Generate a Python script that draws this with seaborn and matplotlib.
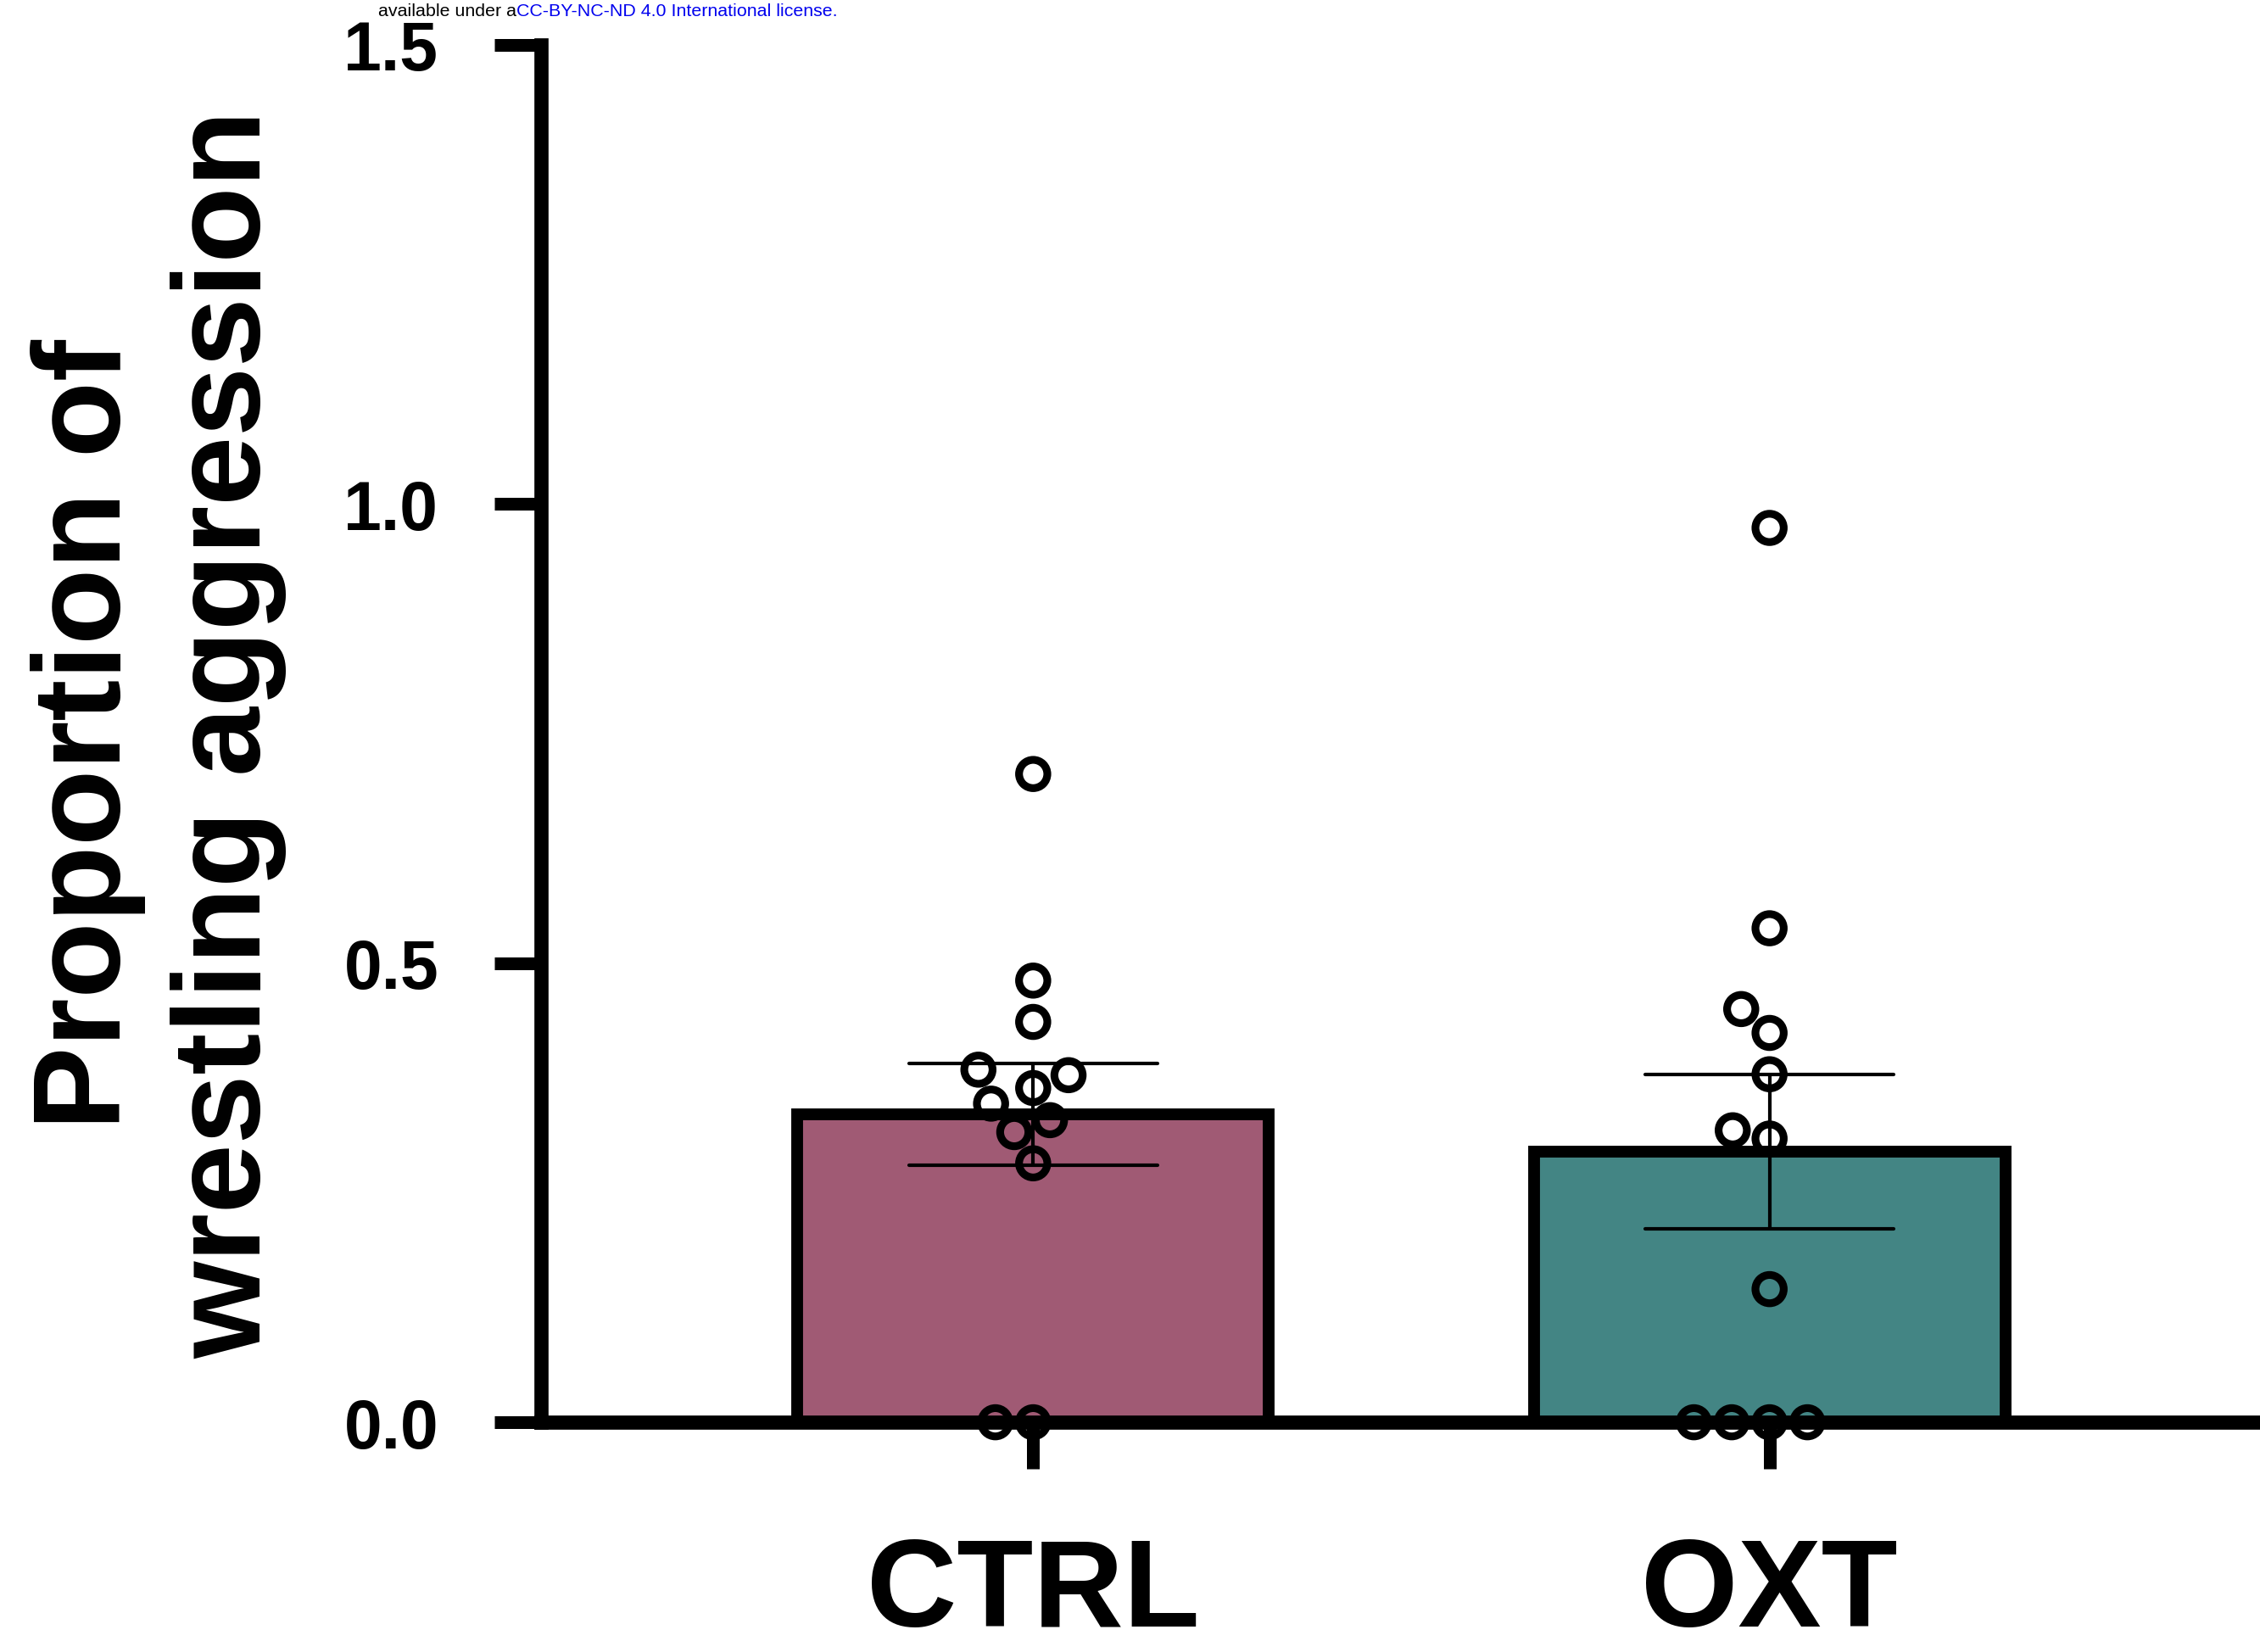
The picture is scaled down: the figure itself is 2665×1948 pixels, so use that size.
import numpy as np
import pandas as pd
import matplotlib
matplotlib.use("Agg")
import matplotlib.pyplot as plt
import seaborn as sns

# ---- data ----
groups = ["CTRL", "OXT"]
ctrl_values = [0.706, 0.481, 0.436, 0.384, 0.378, 0.347, 0.364, 0.329, 0.316, 0.282, 0.0, 0.0]
oxt_values = [0.974, 0.538, 0.450, 0.424, 0.379, 0.318, 0.309, 0.145, 0.0, 0.0, 0.0, 0.0]
bar_colors = ["#A05A74", "#438584"]
y_ticks = [0.0, 0.5, 1.0, 1.5]
y_tick_labels = ["0.0", "0.5", "1.0", "1.5"]
y_label = "Proportion of\nwrestling aggression"
header_black = "available under a"
header_blue = "CC-BY-NC-ND 4.0 International license."

df = pd.DataFrame({
    "group": ["CTRL"] * len(ctrl_values) + ["OXT"] * len(oxt_values),
    "value": ctrl_values + oxt_values,
})

sns.set_style("ticks")
plt.rcParams["font.family"] = ["Liberation Sans", "DejaVu Sans"]

fig = plt.figure(figsize=(13.325, 9.745), dpi=200)
ax = fig.add_axes([0.2395, 0.1390, 0.7605, 0.8333])

sns.barplot(
    data=df, x="group", y="value", hue="group", order=groups, hue_order=groups,
    palette=bar_colors, saturation=1, errorbar="se", capsize=0.338, width=0.64,
    edgecolor="black", linewidth=5.0,
    err_kws={"color": "black", "linewidth": 1.5},
    legend=False, ax=ax,
)

sns.swarmplot(
    data=df, x="group", y="value", order=groups, color="white",
    edgecolor="black", linewidth=3.3, size=12.0, ax=ax, zorder=4,
)
for coll in ax.collections:
    coll.set_facecolor("none")
    coll.set_clip_on(False)

ax.set_xlim(-0.668, 1.666)
ax.set_ylim(0, 1.5)
ax.set_yticks(y_ticks)
ax.set_yticklabels(y_tick_labels)

sns.despine(ax=ax, top=True, right=True)
for side in ["left", "bottom"]:
    ax.spines[side].set_linewidth(6.0)
    ax.spines[side].set_color("black")

ax.tick_params(axis="both", length=19.8, width=5.4, color="black", direction="out")
ax.tick_params(axis="y", labelsize=29, pad=23.8)
ax.tick_params(axis="x", labelsize=53, pad=28.5)
for lbl in ax.get_xticklabels() + ax.get_yticklabels():
    lbl.set_fontweight("bold")
    lbl.set_color("black")

ax.set_xlabel("")
ax.set_ylabel(y_label, fontsize=53, fontweight="bold", linespacing=1.28, color="black")
ax.yaxis.set_label_coords(-0.148, 0.5)

fig.text(0.2285, 0.9903, header_black, ha="right", va="baseline", fontsize=7.7, color="black")
fig.text(0.2285, 0.9903, header_blue, ha="left", va="baseline", fontsize=7.7, color="#0000EE")

fig.savefig("out.png", dpi=200)
